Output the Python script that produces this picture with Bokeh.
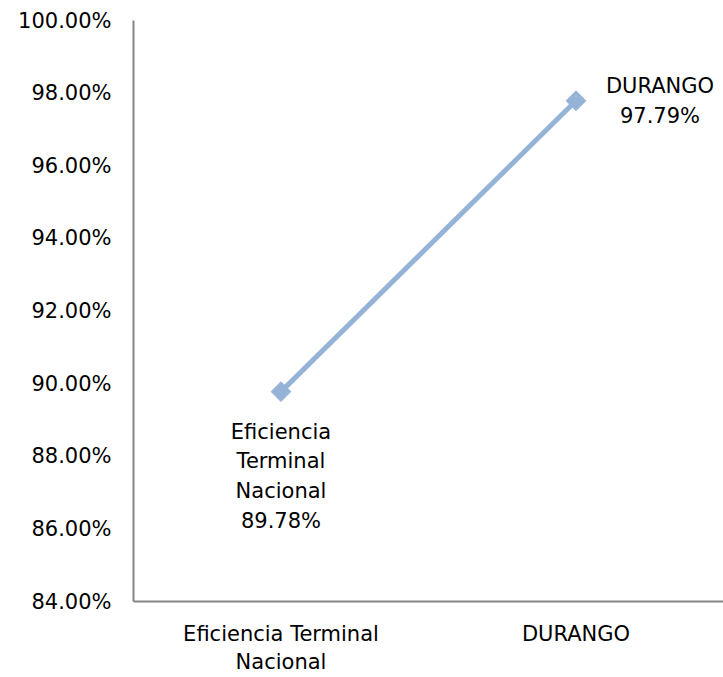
import math
from bokeh.plotting import figure
from bokeh.models import ColumnDataSource, Range1d, FactorRange, FixedTicker, NumeralTickFormatter
from bokeh.core.properties import value
from bokeh.embed import file_html
from bokeh.resources import INLINE

categories = ["Eficiencia Terminal\nNacional", "DURANGO"]
values = [0.8978, 0.9779]
label_names = ["Eficiencia\nTerminal\nNacional", "DURANGO"]
y_ticks = [0.84, 0.86, 0.88, 0.90, 0.92, 0.94, 0.96, 0.98, 1.00]

FONT = "DejaVu Sans"
LINE_COLOR = "#95B3D7"

labels = [f"{n}\n{v*100:.2f}%" for n, v in zip(label_names, values)]
src = ColumnDataSource(dict(
    x=categories, y=values, text=labels,
    align=["center", "center"], baseline=["top", "middle"],
    xo=[0, 84], yo=[28, 0],
))

p = figure(width=723, height=677, x_range=FactorRange(*categories),
           y_range=Range1d(0.84, 1.00), output_backend="svg",
           toolbar_location=None, min_border_left=133, min_border_right=0,
           min_border_top=20, min_border_bottom=73)
p.outline_line_color = None
p.grid.visible = False

p.line("x", "y", source=src, line_color=LINE_COLOR, line_width=5)
p.scatter("x", "y", source=src, marker="square", size=14, angle=math.pi / 4,
          fill_color=LINE_COLOR, line_color=LINE_COLOR)
p.text("x", "y", text="text", source=src, text_align="align",
       text_baseline="baseline", x_offset="xo", y_offset="yo",
       text_font=value(FONT), text_font_size="21px", text_color="#000000",
       text_line_height=1.24)

for ax in (p.xaxis[0], p.yaxis[0]):
    ax.axis_line_color = "#868686"
    ax.axis_line_width = 2
    ax.major_tick_line_color = None
    ax.minor_tick_line_color = None
    ax.major_label_text_font = FONT
    ax.major_label_text_font_size = "21px"
    ax.major_label_text_color = "#000000"

p.yaxis.ticker = FixedTicker(ticks=y_ticks)
p.yaxis.formatter = NumeralTickFormatter(format="0.00%")
p.yaxis.major_label_standoff = 16
p.xaxis.major_label_standoff = 14

open("out.html", "w").write(file_html(p, INLINE))
